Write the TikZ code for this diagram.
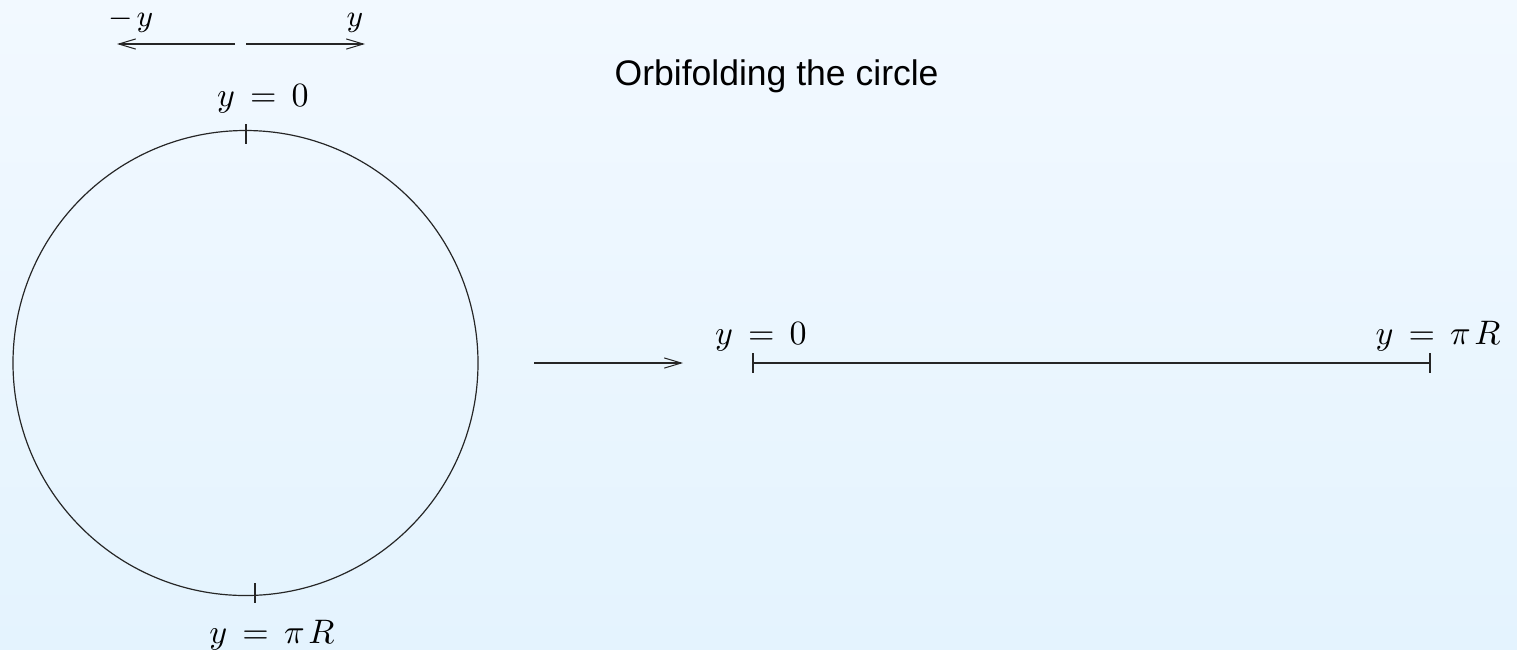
\documentclass[tikz,border=0pt]{standalone}
\usepackage{fontspec}
\newfontfamily\titlefont{Liberation Sans}
\usetikzlibrary{arrows.meta}
\begin{document}
\begin{tikzpicture}[x=0.2941pt,y=-0.2941pt,
  line/.style={line width=0.35pt,black!85},
  tip/.style={-{Straight Barb[length=5pt,width=3pt,line width=0.3pt]}},
  mathlbl/.style={inner sep=0pt,anchor=base,font=\fontsize{10.2}{12}\selectfont},
  smalllbl/.style={inner sep=0pt,anchor=base,font=\fontsize{9}{11}\selectfont},
  ticklen/.style={line width=0.35pt,black!85}]
\useasboundingbox (0,0) rectangle (1517,649);
\fill[top color={rgb,255:red,242;green,249;blue,255},bottom color={rgb,255:red,228;green,243;blue,254}] (0,0) rectangle (1517,649);
% title
\node[anchor=base west,inner sep=0pt,font=\titlefont\fontsize{10.45}{12}\selectfont] (title) at (614,85) {Orbifolding the circle};
% circle
\coordinate (cc) at (245.5,363);
\draw[line] (cc) circle[radius=232.5];
\coordinate (t1) at (246,124); \coordinate (t2) at (246,144);
\draw[ticklen] (t1) -- (t2);
\coordinate (b1) at (255,583); \coordinate (b2) at (255,603);
\draw[ticklen] (b1) -- (b2);
\node[mathlbl] (top) at (263,106) {$y\,=\,0$};
\node[mathlbl] (bot) at (272,643) {$y\,=\,\pi\mkern2mu R$};
% top arrows
\coordinate (la) at (235,44); \coordinate (lb) at (117,44);
\coordinate (ra) at (246,44); \coordinate (rb) at (365,44);
\draw[line,tip] (la) -- (lb);
\draw[line,tip] (ra) -- (rb);
\node[smalllbl] (my) at (131,26) {$-\mkern2mu y$};
\node[smalllbl] (py) at (355,26) {$y$};
% middle arrow
\coordinate (ma) at (534,363); \coordinate (mb) at (683,363);
\draw[line,tip] (ma) -- (mb);
% segment
\coordinate (s1) at (753,363); \coordinate (s2) at (1430,363);
\draw[line] (s1) -- (s2);
\coordinate (s1a) at (753,353); \coordinate (s1b) at (753,373);
\coordinate (s2a) at (1430,353); \coordinate (s2b) at (1430,373);
\draw[ticklen] (s1a) -- (s1b);
\draw[ticklen] (s2a) -- (s2b);
\node[mathlbl] (l0) at (761,344) {$y\,=\,0$};
\node[mathlbl] (lR) at (1438,344) {$y\,=\,\pi\mkern2mu R$};
\end{tikzpicture}
\end{document}
